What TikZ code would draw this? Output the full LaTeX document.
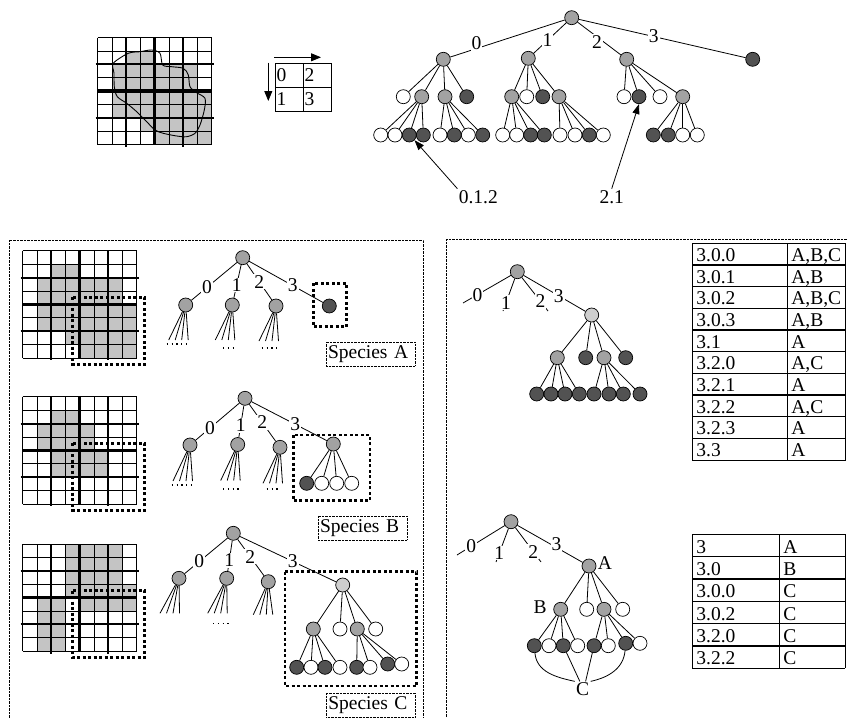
\documentclass[tikz,border=0pt]{standalone}
\usepackage{fontspec}
\setmainfont{Liberation Serif}
\usetikzlibrary{arrows.meta}
\definecolor{cellfill}{RGB}{196,196,196}
\definecolor{nodegrey}{RGB}{162,162,162}
\definecolor{nodedark}{RGB}{82,82,82}
\definecolor{nodelight}{RGB}{206,206,206}
\tikzset{
  treenode/.style={circle, draw, line width=0.7pt, minimum size=14pt, inner sep=0pt},
  greynode/.style={treenode, fill=nodegrey},
  darknode/.style={treenode, fill=nodedark},
  whitenode/.style={treenode, fill=white},
  lightnode/.style={treenode, fill=nodelight},
  branch/.style={fill=white, inner sep=1pt},
  plain/.style={inner sep=1pt},
  gridline/.style={line width=0.7pt},
  thickline/.style={line width=2pt},
  centreline/.style={line width=3.5pt},
  quadbox/.style={line width=2.8pt, dash pattern=on 3pt off 2.5pt},
  panel/.style={line width=0.6pt, dash pattern=on 0.6pt off 0.8pt},
  speciesbox/.style={draw, line width=0.6pt, dash pattern=on 0.6pt off 0.8pt, text width=85pt, inner xsep=2pt, minimum height=23.7pt, align=left},
  qcell/.style={draw, line width=0.8pt, minimum height=24pt, text width=25pt, inner xsep=1.5pt, inner ysep=0pt, align=left},
  pointer/.style={line width=0.8pt, -{Triangle[length=10pt,width=7pt]}},
  elide/.style={line width=1.3pt, dash pattern=on 1.3pt off 3.5pt},
  cellkey/.style={anchor=base west, inner sep=0pt},
  cellrow/.style={line width=1.4pt},
}
\newcommand{\cellgrid}[3]{%
  \begin{scope}[shift={(#1,#2)}]
    \foreach \gr/\ga/\gb in {#3}
      \foreach \gc in {\ga,...,\gb}
        \fill[cellfill] (\gc*14.25,\gr*13.4) rectangle ++(14.25,13.4);
    \foreach \gi in {0,...,8} {
      \draw[gridline] (\gi*14.25,0) -- (\gi*14.25,107.2);
      \draw[gridline] (0,\gi*13.4) -- (114,\gi*13.4);
    }
    \foreach \gi in {2,6} {
      \draw[thickline] (\gi*14.25,0) -- (\gi*14.25,109.5);
      \draw[thickline] (-2,\gi*13.4) -- (116,\gi*13.4);
    }
    \draw[centreline] (57,0) -- (57,107.2);
    \draw[centreline] (0,53.6) -- (114,53.6);
  \end{scope}}

\begin{document}
\begin{tikzpicture}[x=1pt, y=-1pt, font=\fontsize{19.5}{23}\selectfont, line width=0.8pt]
\useasboundingbox (0,0) rectangle (847,718);
\clip (0,0) rectangle (847,718);

% map and quadrant order
\cellgrid{97.7}{37.5}{1/2/3, 2/1/6, 3/1/6, 4/1/7, 5/1/7, 6/3/7, 7/4/7}
\draw[line width=0.9pt] plot[smooth cycle] coordinates {(113.3,63.3) (128.3,53.3) (140,51.7) (151.7,50) (160,53.3) (162.7,65) (171.7,66.7) (183.3,68.3) (188.3,75) (190,86.7) (196.7,92.7) (205,98.3) (204.3,110) (200,125) (195,133.3) (186.7,136.7) (176.7,136) (163.3,133.3) (155,130) (146.7,121.7) (136.7,111.7) (126.7,103.3) (117.3,96.7) (114.3,86.7) (114,73.3)};

\node[qcell] (q0) at (289.2,75.2) {0};
\node[qcell] (q2) at (317.2,75.2) {2};
\node[qcell] (q1) at (289.2,99.2) {1};
\node[qcell] (q3) at (317.2,99.2) {3};
\coordinate (hs) at (274,57.3);
\coordinate (he) at (321,57.3);
\coordinate (vs) at (268.3,62.7);
\coordinate (ve) at (268.3,101);
\draw[-{Triangle[length=10pt,width=8pt]}] (hs) -- (he);
\draw[-{Triangle[length=10pt,width=8pt]}] (vs) -- (ve);

% full tree
\node[greynode] (t) at (571.7,17.7) {};
\node[greynode] (t0) at (443.3,59.3) {};
\node[greynode] (t1) at (528.3,58.3) {};
\node[greynode] (t2) at (626.7,59.3) {};
\node[darknode] (t3) at (752.7,59.3) {};
\draw (t) -- node[branch, pos=0.77, yshift=5pt] {0} (t0);
\draw (t) -- node[branch, pos=0.58] {1} (t1);
\draw (t) -- node[branch, pos=0.45, yshift=-5pt] {2} (t2);
\draw (t) -- node[branch, pos=0.45] {3} (t3);
\foreach \k/\x/\f in {0/403.3/white, 1/421.7/nodegrey, 2/445/nodegrey, 3/466.7/nodedark} {
  \node[treenode, fill=\f] (t0\k) at (\x,96.7) {};
  \draw (t0) -- (t0\k);
}
\foreach \k/\x/\f in {0/511.7/nodegrey, 1/526.7/white, 2/542.7/nodedark, 3/559/nodegrey} {
  \node[treenode, fill=\f] (t1\k) at (\x,96.7) {};
  \draw (t1) -- (t1\k);
}
\foreach \k/\x/\f in {0/624/white, 1/639/nodedark, 2/660/white, 3/682.7/nodegrey} {
  \node[treenode, fill=\f] (t2\k) at (\x,96.7) {};
  \draw (t2) -- (t2\k);
}
\foreach \k/\x/\f in {0/380.7/white, 1/395/white, 2/409.3/nodedark, 3/423.3/nodedark} {
  \node[treenode, fill=\f] (t01\k) at (\x,135) {};
  \draw (t01) -- (t01\k);
}
\foreach \k/\x/\f in {0/440/white, 1/454.3/nodedark, 2/468.3/white, 3/482.7/nodedark} {
  \node[treenode, fill=\f] (t02\k) at (\x,135) {};
  \draw (t02) -- (t02\k);
}
\foreach \k/\x/\f in {0/502.7/white, 1/516.7/white, 2/530.7/nodedark, 3/544.3/nodedark} {
  \node[treenode, fill=\f] (t10\k) at (\x,135) {};
  \draw (t10) -- (t10\k);
}
\foreach \k/\x/\f in {0/560/white, 1/575/white, 2/589.3/nodedark, 3/603.3/white} {
  \node[treenode, fill=\f] (t13\k) at (\x,135) {};
  \draw (t13) -- (t13\k);
}
\foreach \k/\x/\f in {0/653.3/nodedark, 1/668.3/nodedark, 2/682.7/white, 3/697.3/white} {
  \node[treenode, fill=\f] (t23\k) at (\x,135) {};
  \draw (t23) -- (t23\k);
}
\node[plain] (l012) at (478.3,196.7) {0.1.2};
\node[plain] (l21) at (611.7,196.7) {2.1};
\draw[pointer] (l012.north west) -- (t012.south east);
\draw[pointer] (l21.north) -- (t21.south);

% panels
\draw[panel] (9.3,240) rectangle (423.3,740);
\draw[panel] (446,239) rectangle (870,740);

% species A
\cellgrid{22.7}{250.7}{1/2/3, 2/1/6, 3/1/6, 4/1/7, 5/1/7, 6/3/7, 7/4/7}
\draw[quadbox] (72.7,297.2) rectangle (144.7,364.2);
\node[greynode] (a) at (242.7,257.7) {};
\node[greynode] (a0) at (185.7,305) {};
\node[greynode] (a1) at (232.3,305) {};
\node[greynode] (a2) at (276,306) {};
\node[darknode] (a3) at (329.3,306) {};
\draw (a) -- node[branch, pos=0.66] {0} (a0);
\draw (a) -- node[branch, pos=0.61] {1} (a1);
\draw (a) -- node[branch, pos=0.5] {2} (a2);
\draw (a) -- node[branch, pos=0.59] {3} (a3);
\foreach \n in {a0,a1,a2}
  \foreach \dx in {-17,-10.5,-4,2.5}
    \draw (\n) -- +(\dx,35);
\draw[elide] (166.7,344) -- (190,344);
\draw[elide] (223,348) -- (237,348);
\draw[elide] (261.7,348) -- (276.7,348);
\draw[quadbox] (313.3,283.3) rectangle (346.7,326.7);
\node[speciesbox] (spa) at (370.5,354.2) {Species A};

% species B
\cellgrid{22.7}{396.7}{1/2/3, 2/1/4, 3/1/4, 4/2/5, 5/2/5}
\draw[quadbox] (72.7,443.2) rectangle (144.7,510.2);
\node[greynode] (b) at (245,398.3) {};
\node[greynode] (b0) at (190,445) {};
\node[greynode] (b1) at (237.7,444.5) {};
\node[greynode] (b2) at (280,447.3) {};
\node[greynode] (b3) at (333.3,444) {};
\draw (b) -- node[branch, pos=0.67] {0} (b0);
\draw (b) -- node[branch, pos=0.63] {1} (b1);
\draw (b) -- node[branch, pos=0.49] {2} (b2);
\draw (b) -- node[branch, pos=0.58] {3} (b3);
\foreach \n in {b0,b1,b2}
  \foreach \dx in {-17,-10.5,-4,2.5}
    \draw (\n) -- +(\dx,36);
\draw[elide] (171.7,485) -- (195,485);
\draw[elide] (223,489) -- (240,489);
\draw[elide] (266.7,489) -- (280,489);
\foreach \k/\x/\f in {0/306.7/nodedark, 1/321.7/white, 2/336.7/white, 3/351.7/white} {
  \node[treenode, fill=\f] (b3\k) at (\x,483.3) {};
  \draw (b3) -- (b3\k);
}
\draw[quadbox] (293.3,435) rectangle (370,500.7);
\node[speciesbox] (spb) at (362.5,528) {Species B};

% species C
\cellgrid{22.7}{544}{0/3/6, 1/3/6, 2/3/6, 3/3/7, 4/1/2, 4/4/7, 5/1/2, 6/1/2, 7/1/2}
\draw[quadbox] (72.7,590.5) rectangle (144.7,657.5);
\node[greynode] (c) at (233.3,533.3) {};
\node[greynode] (c0) at (179,578.3) {};
\node[greynode] (c1) at (226.7,578.3) {};
\node[greynode] (c2) at (268.3,581.7) {};
\node[lightnode] (c3) at (342.7,585) {};
\draw (c) -- node[branch, pos=0.66] {0} (c0);
\draw (c) -- node[branch, pos=0.65] {1} (c1);
\draw (c) -- node[branch, pos=0.48] {2} (c2);
\draw (c) -- node[branch, pos=0.55] {3} (c3);
\foreach \n in {c0,c1}
  \foreach \dx in {-19,-12.5,-6,0.5}
    \draw (\n) -- +(\dx,35);
\foreach \dx in {-15,-8.5,-2,4.5}
  \draw (c2) -- +(\dx,33);
\draw[elide] (213,623.3) -- (230,623.3);
\foreach \k/\x/\f in {0/313.3/nodegrey, 1/340/white, 2/357.3/nodegrey, 3/375.7/white} {
  \node[treenode, fill=\f] (c3\k) at (\x,629) {};
  \draw (c3) -- (c3\k);
}
\foreach \k/\x/\f in {0/296.7/nodedark, 1/311/white, 2/325/nodedark, 3/340/white} {
  \node[treenode, fill=\f] (c30\k) at (\x,667.3) {};
  \draw (c30) -- (c30\k);
}
\foreach \k/\x/\y/\f in {0/356.7/667.3/nodedark, 1/370/667.3/white, 2/387.7/664/nodedark, 3/401.7/664/white} {
  \node[treenode, fill=\f] (c32\k) at (\x,\y) {};
  \draw (c32) -- (c32\k);
}
\draw[quadbox] (285,571.7) rectangle (416.7,686);
\node[speciesbox] (spc) at (370.8,705) {Species C};

% union tree and table
\node[greynode] (r) at (517.3,271.7) {};
\coordinate (r0) at (463,303);
\coordinate (r1) at (503,311);
\coordinate (r2) at (548,311);
\node[lightnode] (r3) at (591.7,315) {};
\draw (r) -- node[branch, pos=0.7] {0} (r0);
\draw (r) -- node[branch, pos=0.74] {1} (r1);
\draw (r) -- node[branch, pos=0.71] {2} (r2);
\draw (r) -- node[branch, pos=0.57] {3} (r3);
\foreach \k/\x/\f in {0/557.3/nodegrey, 1/585.7/nodedark, 2/604/nodegrey, 3/625.7/nodedark} {
  \node[treenode, fill=\f] (r3\k) at (\x,357.7) {};
  \draw (r3) -- (r3\k);
}
\foreach \k/\x in {0/536.7, 1/551, 2/565, 3/579.3} {
  \node[darknode] (r30\k) at (\x,394) {};
  \draw (r30) -- (r30\k);
}
\foreach \k/\x in {0/594, 1/609, 2/623.3, 3/640} {
  \node[darknode] (r32\k) at (\x,394) {};
  \draw (r32) -- (r32\k);
}
\foreach \i/\k/\v in {0/3.0.0/{A,B,C}, 1/3.0.1/{A,B}, 2/3.0.2/{A,B,C}, 3/3.0.3/{A,B}, 4/3.1/A, 5/3.2.0/{A,C}, 6/3.2.1/A, 7/3.2.2/{A,C}, 8/3.2.3/A, 9/3.3/A} {
  \node[cellkey] (ka\i) at (696,261.6+21.67*\i) {\k};
  \node[cellkey] (va\i) at (791,261.6+21.67*\i) {\v};
}
\foreach \i in {1,...,9}
  \draw[cellrow] (692.3,243.3+21.67*\i) -- (845,243.3+21.67*\i);
\draw (692.3,243.3) rectangle (845,460);
\draw (787.7,243.3) -- (787.7,460);

% overlap tree and table
\node[greynode] (s) at (511,521.7) {};
\coordinate (s0) at (457,555);
\coordinate (s1) at (496,562);
\coordinate (s2) at (541,562);
\node[greynode] (s3) at (589,566) {};
\draw (s) -- node[branch, pos=0.7] {0} (s0);
\draw (s) -- node[branch, pos=0.73] {1} (s1);
\draw (s) -- node[branch, pos=0.7] {2} (s2);
\draw (s) -- node[branch, pos=0.6, yshift=3pt] {3} (s3);
\node[plain] (na) at (605,563.3) {A};
\foreach \k/\x/\f in {0/560.7/nodegrey, 1/586.7/white, 2/604/nodegrey, 3/622.7/white} {
  \node[treenode, fill=\f] (s3\k) at (\x,609.3) {};
  \draw (s3) -- (s3\k);
}
\node[plain] (nb) at (540,606.7) {B};
\foreach \k/\x/\f in {0/534.3/nodedark, 1/549/white, 2/563.3/nodedark, 3/577.7/white} {
  \node[treenode, fill=\f] (s30\k) at (\x,645.7) {};
  \draw (s30) -- (s30\k);
}
\foreach \k/\x/\y/\f in {0/594/645.7/nodedark, 1/608.3/645.7/white, 2/625.7/643.3/nodedark, 3/640/643.3/white} {
  \node[treenode, fill=\f] (s32\k) at (\x,\y) {};
  \draw (s32) -- (s32\k);
}
\node[plain] (nc) at (582.7,689.3) {C};
\draw (s300) to[out=-85, in=168] (nc.north west);
\draw (s302) -- (nc.110);
\draw (s320) -- (nc.70);
\draw (s322) to[out=-95, in=12] (nc.north east);
\foreach \i/\k/\v in {0/3/A, 1/3.0/B, 2/3.0.0/C, 3/3.0.2/C, 4/3.2.0/C, 5/3.2.2/C} {
  \node[cellkey] (kb\i) at (696,553.3+22.33*\i) {\k};
  \node[cellkey] (vb\i) at (783,553.3+22.33*\i) {\v};
}
\foreach \i in {1,...,5}
  \draw[cellrow] (692.3,534.3+22.33*\i) -- (845,534.3+22.33*\i);
\draw (692.3,534.3) -- (845,534.3);
\draw[line width=0.5pt] (692.3,668.3) -- (845,668.3);
\draw (692.3,534.3) -- (692.3,668.3);
\draw (779.3,534.3) -- (779.3,668.3);
\draw (845,534.3) -- (845,668.3);
\end{tikzpicture}
\end{document}
